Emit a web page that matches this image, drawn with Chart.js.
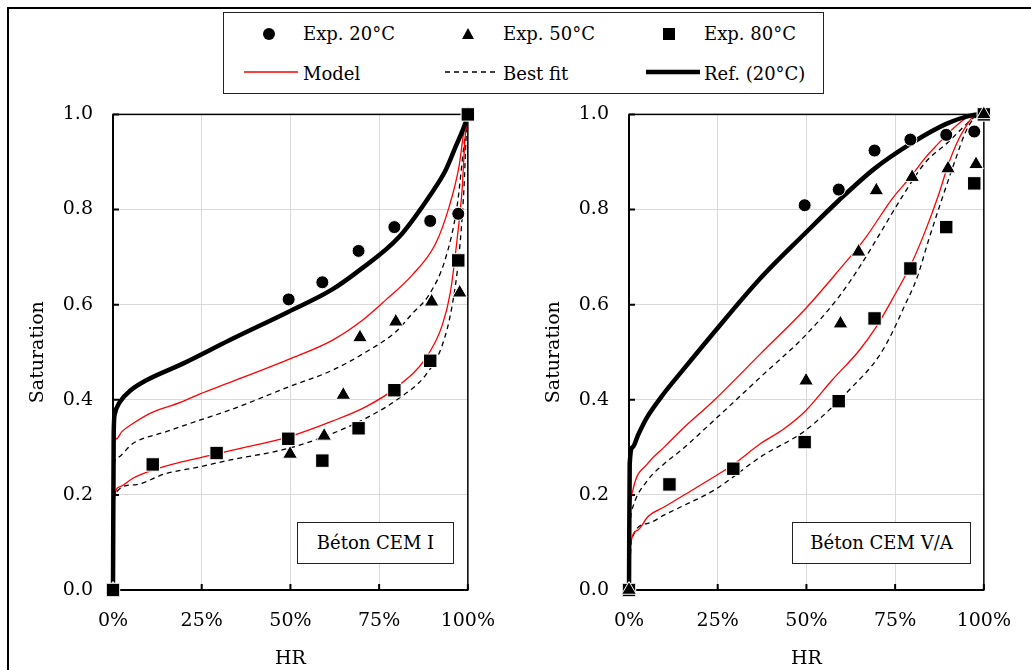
<!DOCTYPE html>
<html>
<head>
<meta charset="utf-8">
<script src="https://cdn.jsdelivr.net/npm/chart.js@4.4.1/dist/chart.umd.min.js"></script>
<style>
  body { margin: 0; width: 1031px; height: 670px; overflow: hidden; background: #fff; font-family: "DejaVu Serif", serif; color: #000; }
  #frame { position: absolute; left: 7px; top: 7px; width: 1030px; height: 680px; border-top: 2px solid #000; border-left: 2px solid #000; }
  .chartBox { position: absolute; top: 83px; width: 505px; height: 587px; }
  #legend { position: absolute; left: 223px; top: 12px; width: 599px; height: 80px; border: 1.5px solid #222; background: #fff; }
  .item { position: absolute; font-size: 18px; line-height: 22px; white-space: nowrap; }
  .sym { position: absolute; }
  .tag { position: absolute; top: 522px; height: 40px; border: 1.5px solid #222; background: #fff; font-size: 18px; line-height: 40px; text-align: center; }
</style>
</head>
<body>
<div id="frame"></div>

<div class="chartBox" style="left:10px"><canvas id="cem1" width="505" height="587"></canvas></div>
<div class="chartBox" style="left:526px"><canvas id="cem5" width="505" height="587"></canvas></div>

<div id="legend">
  <svg class="sym" style="left:38px;top:14px" width="14" height="14"><circle cx="7" cy="7" r="6" fill="#000"/></svg>
  <div class="item" style="left:79px;top:10px">Exp. 20°C</div>
  <svg class="sym" style="left:237px;top:14px" width="14" height="14"><polygon points="7,1 13,12 1,12" fill="#000"/></svg>
  <div class="item" style="left:279px;top:10px">Exp. 50°C</div>
  <svg class="sym" style="left:439px;top:15px" width="12" height="12"><rect x="0" y="0" width="12" height="12" fill="#000"/></svg>
  <div class="item" style="left:480px;top:10px">Exp. 80°C</div>

  <svg class="sym" style="left:20px;top:55px" width="54" height="8"><line x1="0" y1="4" x2="54" y2="4" stroke="#ff0000" stroke-width="1.3"/></svg>
  <div class="item" style="left:79px;top:50px">Model</div>
  <svg class="sym" style="left:221px;top:55px" width="50" height="8"><line x1="0" y1="4" x2="50" y2="4" stroke="#000" stroke-width="1.3" stroke-dasharray="5,4"/></svg>
  <div class="item" style="left:279px;top:50px">Best fit</div>
  <svg class="sym" style="left:422px;top:55px" width="54" height="8"><line x1="0" y1="4" x2="54" y2="4" stroke="#000" stroke-width="4.5"/></svg>
  <div class="item" style="left:480px;top:50px">Ref. (20°C)</div>
</div>

<div class="tag" style="left:297px;width:155px">Béton CEM I</div>
<div class="tag" style="left:792px;width:177px">Béton CEM V/A</div>

<script>
// axis ticks
const xTicks = [0, 25, 50, 75, 100];
const yTicks = [0, 0.2, 0.4, 0.6, 0.8, 1.0];

// ---- Béton CEM I ----
const c1Exp20HR  = [0, 49.5, 59.0, 69.2, 79.3, 89.4, 97.3, 100];
const c1Exp20Sat = [0, 0.611, 0.647, 0.713, 0.763, 0.776, 0.791, 1.0];
const c1Exp50HR  = [0, 49.9, 59.5, 64.9, 69.6, 79.7, 89.8, 97.7, 100];
const c1Exp50Sat = [0, 0.286, 0.324, 0.410, 0.531, 0.564, 0.606, 0.625, 1.0];
const c1Exp80HR  = [0, 11.2, 29.2, 49.4, 59.0, 69.2, 79.3, 89.4, 97.3, 100];
const c1Exp80Sat = [0, 0.264, 0.288, 0.318, 0.272, 0.340, 0.420, 0.482, 0.693, 1.0];

const c1RefHR  = [0, 0.2, 0.5, 2, 5, 9.4, 19.7, 32.8, 49.5, 61.8, 69.4, 80.6, 90, 93.7, 96.5, 99.4, 100];
const c1RefSat = [0, 0.33, 0.37, 0.396, 0.42, 0.441, 0.476, 0.525, 0.585, 0.632, 0.672, 0.742, 0.837, 0.882, 0.931, 0.984, 1.0];

const c1ModelHiHR  = [0, 0.1, 1, 2.5, 5.6, 10.3, 18.8, 24.4, 32.8, 49.5, 61.8, 70.3, 76.9, 84.3, 90.9, 94.7, 97.5, 98.9, 100];
const c1ModelHiSat = [0, 0.30, 0.318, 0.333, 0.350, 0.371, 0.394, 0.412, 0.436, 0.485, 0.525, 0.567, 0.610, 0.662, 0.728, 0.805, 0.890, 0.965, 1.0];
const c1FitHiHR    = [0, 0.2, 1, 5.6, 15, 24.4, 32.8, 49.5, 61.8, 71.2, 79.7, 84.3, 89, 93.7, 97, 98.9, 100];
const c1FitHiSat   = [0, 0.255, 0.277, 0.308, 0.333, 0.357, 0.378, 0.427, 0.462, 0.500, 0.543, 0.581, 0.620, 0.697, 0.809, 0.935, 1.0];

const c1ModelLoHR  = [0, 0.3, 1.9, 5.6, 11.2, 19.7, 28.1, 33.7, 49.5, 61.8, 71.2, 79.7, 88.1, 92.8, 95.1, 97, 98.4, 99.2, 100];
const c1ModelLoSat = [0, 0.19, 0.217, 0.235, 0.252, 0.270, 0.284, 0.294, 0.322, 0.355, 0.385, 0.425, 0.487, 0.557, 0.627, 0.739, 0.844, 0.949, 1.0];
const c1FitLoHR    = [0, 0.5, 5.6, 15, 24.4, 32.8, 49.5, 61.8, 71.2, 80.6, 88.1, 92.8, 95.6, 97.5, 98.9, 99.5, 100];
const c1FitLoSat   = [0, 0.2, 0.221, 0.245, 0.259, 0.273, 0.298, 0.329, 0.361, 0.403, 0.452, 0.515, 0.599, 0.704, 0.844, 0.949, 1.0];

// ---- Béton CEM V/A ----
const c5Exp20HR  = [0, 49.5, 59.1, 69.2, 79.3, 89.4, 97.3, 100];
const c5Exp20Sat = [0, 0.809, 0.842, 0.924, 0.947, 0.957, 0.964, 1.0];
const c5Exp50HR  = [0, 49.9, 59.6, 64.7, 69.7, 79.8, 89.9, 97.8, 100];
const c5Exp50Sat = [0, 0.440, 0.560, 0.711, 0.840, 0.868, 0.886, 0.895, 1.0];
const c5Exp80HR  = [0, 11.4, 29.4, 49.5, 59.1, 69.2, 79.3, 89.4, 97.3, 100];
const c5Exp80Sat = [0, 0.222, 0.255, 0.311, 0.397, 0.571, 0.676, 0.763, 0.855, 1.0];

const c5RefHR  = [0, 0.2, 1.1, 2.5, 5, 9.5, 14.7, 24, 37.1, 49.5, 59.1, 69.2, 79.3, 89.4, 96.5, 100];
const c5RefSat = [0, 0.266, 0.301, 0.325, 0.362, 0.410, 0.458, 0.542, 0.656, 0.749, 0.819, 0.886, 0.938, 0.980, 0.998, 1.0];

const c5ModelHiHR  = [0, 0.3, 1.1, 5.3, 10, 14.7, 24, 37.1, 49.8, 59.1, 66.6, 74.1, 79.7, 83.4, 86.2, 92.8, 96.5, 100];
const c5ModelHiSat = [0, 0.15, 0.21, 0.266, 0.301, 0.336, 0.399, 0.497, 0.592, 0.672, 0.740, 0.822, 0.872, 0.908, 0.931, 0.980, 0.998, 1.0];
const c5FitHiHR    = [0, 0.3, 1.1, 5.3, 10, 14.7, 24, 37.1, 49.8, 59.1, 64.7, 70.3, 76.9, 83.4, 90, 94.7, 97.5, 100];
const c5FitHiSat   = [0, 0.13, 0.175, 0.231, 0.266, 0.294, 0.357, 0.448, 0.536, 0.616, 0.676, 0.744, 0.826, 0.898, 0.942, 0.977, 0.995, 1.0];

const c5ModelLoHR  = [0, 0.2, 2.5, 5.3, 10, 14.7, 24, 29.4, 37.1, 43.5, 49.8, 57.2, 64.7, 69.4, 74.1, 79.2, 83.4, 87.2, 90, 92.8, 95.6, 97, 100];
const c5ModelLoSat = [0, 0.084, 0.126, 0.154, 0.175, 0.196, 0.238, 0.264, 0.308, 0.338, 0.377, 0.441, 0.502, 0.550, 0.610, 0.680, 0.753, 0.830, 0.895, 0.946, 0.982, 0.996, 1.0];
const c5FitLoHR    = [0, 0.7, 5.3, 10, 14.7, 24, 37.1, 49.8, 62.9, 70.3, 74.1, 77.5, 81.1, 84.4, 88.1, 91.9, 94.7, 97, 100];
const c5FitLoSat   = [0, 0.105, 0.140, 0.158, 0.175, 0.210, 0.280, 0.336, 0.427, 0.490, 0.540, 0.595, 0.655, 0.735, 0.820, 0.903, 0.960, 0.990, 1.0];

function pts(xs, ys) {
  return xs.map((x, i) => ({ x: x, y: ys[i] }));
}

function marker(xs, ys, style, radius, order) {
  return {
    data: pts(xs, ys),
    showLine: false,
    pointStyle: style,
    pointRadius: radius,
    pointBackgroundColor: '#000',
    pointBorderColor: '#fff',
    pointBorderWidth: 1,
    clip: false,
    order: order
  };
}

function curve(xs, ys, color, width, dash, order) {
  return {
    data: pts(xs, ys),
    showLine: true,
    borderColor: color,
    borderWidth: width,
    borderDash: dash,
    pointRadius: 0,
    cubicInterpolationMode: 'monotone',
    clip: false,
    order: order
  };
}

// black frame round the plot area + small inside tick marks
const framePlugin = {
  id: 'frame',
  beforeDatasetsDraw(chart) {
    const { ctx, chartArea: a, scales } = chart;
    ctx.save();
    ctx.strokeStyle = '#000';
    ctx.lineWidth = 1.5;
    ctx.strokeRect(a.left, a.top, a.right - a.left, a.bottom - a.top);
    ctx.lineWidth = 2;
    ctx.beginPath();
    ctx.moveTo(a.left, a.top);
    ctx.lineTo(a.left, a.bottom);
    ctx.lineTo(a.right, a.bottom);
    yTicks.forEach(v => {
      const py = scales.y.getPixelForValue(v);
      ctx.moveTo(a.left, py);
      ctx.lineTo(a.left + 6, py);
    });
    xTicks.forEach(v => {
      const px = scales.x.getPixelForValue(v);
      ctx.moveTo(px, a.bottom);
      ctx.lineTo(px, a.bottom - 6);
    });
    ctx.stroke();
    ctx.restore();
  }
};

const font = { family: '"DejaVu Serif", serif', size: 19 };

function makeChart(id, sets) {
  new Chart(document.getElementById(id), {
    type: 'scatter',
    data: { datasets: sets },
    options: {
      responsive: false,
      animation: false,
      layout: { padding: { top: 14, right: 41, left: 0, bottom: 0 } },
      plugins: { legend: { display: false }, tooltip: { enabled: false } },
      scales: {
        x: {
          type: 'linear', min: 0, max: 100,
          afterBuildTicks: s => { s.ticks = xTicks.map(v => ({ value: v })); },
          afterFit: s => { s.height = 80; },
          grid: { color: '#d9d9d9', lineWidth: 1, drawTicks: false },
          border: { display: false },
          ticks: { color: '#000', font: font, padding: 20, maxRotation: 0, callback: v => v + '%' },
          title: { display: true, text: 'HR', color: '#000', font: font, padding: { top: 4, bottom: 0 } }
        },
        y: {
          type: 'linear', min: 0, max: 1,
          afterBuildTicks: s => { s.ticks = yTicks.map(v => ({ value: v })); },
          afterFit: s => { s.width = 103; },
          grid: { color: '#d9d9d9', lineWidth: 1, drawTicks: false },
          border: { display: false },
          ticks: { color: '#000', font: font, padding: 20, callback: v => v.toFixed(1) },
          title: { display: true, text: 'Saturation', color: '#000', font: font, padding: { top: 17, bottom: 0 } }
        }
      }
    },
    plugins: [framePlugin]
  });
}

makeChart('cem1', [
  marker(c1Exp20HR, c1Exp20Sat, 'circle', 6.5, 3),
  marker(c1Exp50HR, c1Exp50Sat, 'triangle', 8.5, 2),
  marker(c1Exp80HR, c1Exp80Sat, 'rect', 9.5, 1),
  curve(c1RefHR, c1RefSat, '#000', 4.5, [], 4),
  curve(c1ModelHiHR, c1ModelHiSat, '#ff0000', 1.3, [], 5),
  curve(c1ModelLoHR, c1ModelLoSat, '#ff0000', 1.3, [], 5),
  curve(c1FitHiHR, c1FitHiSat, '#000', 1.3, [5, 4], 6),
  curve(c1FitLoHR, c1FitLoSat, '#000', 1.3, [5, 4], 6)
]);

makeChart('cem5', [
  marker(c5Exp20HR, c5Exp20Sat, 'circle', 6.5, 3),
  marker(c5Exp50HR, c5Exp50Sat, 'triangle', 8.5, 1),
  marker(c5Exp80HR, c5Exp80Sat, 'rect', 9.5, 2),
  curve(c5RefHR, c5RefSat, '#000', 4.5, [], 4),
  curve(c5ModelHiHR, c5ModelHiSat, '#ff0000', 1.3, [], 5),
  curve(c5ModelLoHR, c5ModelLoSat, '#ff0000', 1.3, [], 5),
  curve(c5FitHiHR, c5FitHiSat, '#000', 1.3, [5, 4], 6),
  curve(c5FitLoHR, c5FitLoSat, '#000', 1.3, [5, 4], 6)
]);
</script>
</body>
</html>
